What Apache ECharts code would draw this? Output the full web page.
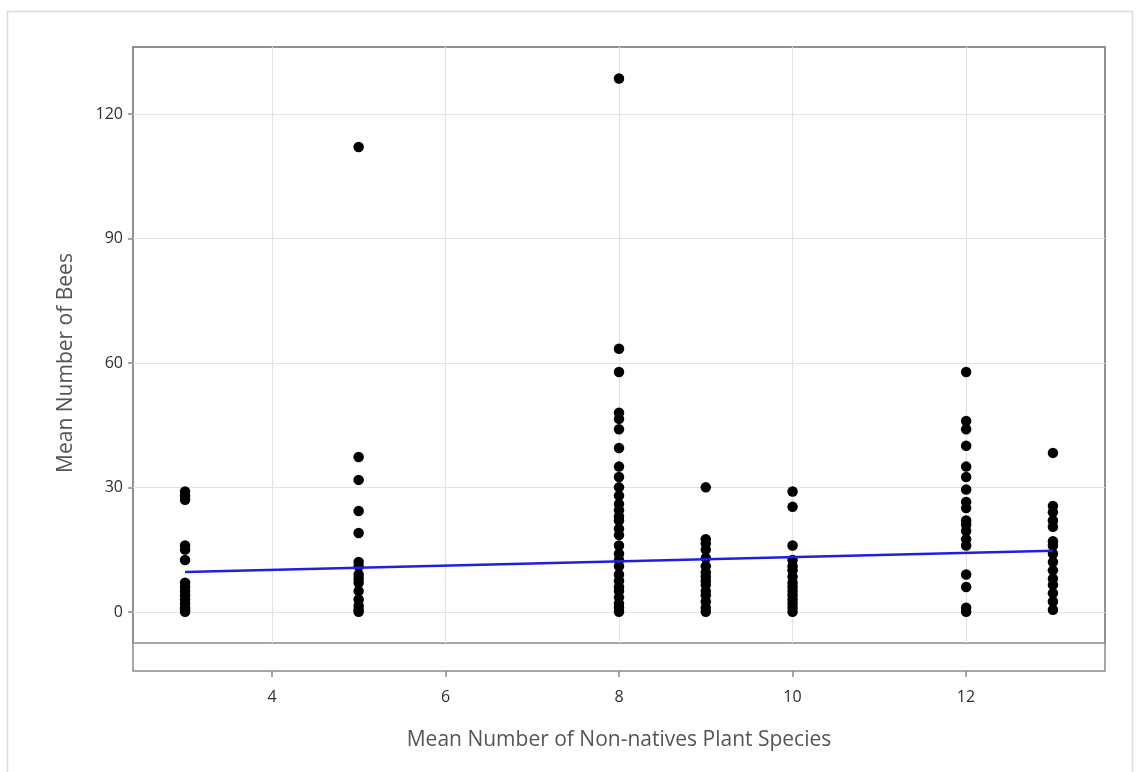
<!DOCTYPE html>
<html>
<head>
<meta charset="utf-8">
<script src="https://cdn.jsdelivr.net/npm/echarts@6/dist/echarts.min.js"></script>
<style>
  html, body { margin: 0; padding: 0; background: #fff; }
  #chart { width: 1143px; height: 772px; }
</style>
</head>
<body>
<div id="chart"></div>
<script>
// x = mean number of non-native plant species, y = mean number of bees
const beesAt3 = [29, 28, 27, 16, 15, 12.5, 7, 6, 5, 4, 3, 2, 1, 0.5, 0]
const beesAt5 = [112, 37.3, 31.8, 24.3, 19, 12, 11, 9, 8, 7, 5, 3, 1.5, 0.5, 0]
const beesAt8 = [128.5, 63.4, 57.8, 48, 46.5, 44, 39.5, 35, 32.5, 30, 28, 26, 24.5, 23, 22, 20,
  18.5, 16, 14, 12.5, 11, 9, 7.5, 6, 5, 3.5, 2, 1, 0]
const beesAt9 = [30, 17.5, 16.5, 15, 13, 11, 9.5, 8.5, 7.5, 6.5, 5, 4, 2.5, 1, 0]
const beesAt10 = [29, 25.3, 16, 12.5, 11, 10, 8.5, 7, 6, 5, 4, 3, 2, 1, 0]
const beesAt12 = [57.8, 46, 44, 40, 35, 32.5, 29.5, 26.5, 25, 22, 21, 19.5, 17.5, 16, 9, 6, 1, 0]
const beesAt13 = [38.3, 25.5, 24, 22, 20.5, 17, 16, 14, 12, 10, 8, 6.5, 4.5, 2.5, 0.5]

const columns = [
  [3, beesAt3], [5, beesAt5], [8, beesAt8], [9, beesAt9],
  [10, beesAt10], [12, beesAt12], [13, beesAt13]
]

// fitted regression line endpoints
const fitX = [3, 13]
const fitY = [9.6, 14.7]

// tick ranges (first tick, last tick, step)
const xTickRange = [4, 12, 2]
const yTickRange = [0, 120, 30]

const points = []
columns.forEach(([x, ys]) => ys.forEach(y => points.push([x, y])))

const chart = echarts.init(document.getElementById('chart'))

const frameColor = '#8a8a8a'
const gridColor = '#e3e3e3'
const font = '"Open Sans", "Noto Sans", sans-serif'
const labelStyle = { fontFamily: font, fontSize: 16, color: '#2e2e2e' }
const titleStyle = { fontFamily: font, fontSize: 21, color: '#555' }

// x axis over the 4..12 tick span, used for labels / gridlines / tick marks
const xTickAxis = (gridIndex, extra) => Object.assign({
  type: 'value',
  gridIndex: gridIndex,
  min: xTickRange[0],
  max: xTickRange[1],
  interval: xTickRange[2],
  axisLine: { show: false },
  axisTick: { show: false },
  axisLabel: { show: false },
  splitLine: { show: false }
}, extra)

chart.setOption({
  animation: false,
  backgroundColor: '#fff',
  graphic: [{
    type: 'rect',
    shape: { x: 7.5, y: 11.5, width: 1125, height: 780 },
    style: { fill: 'none', stroke: '#dcdcdc', lineWidth: 1.5 },
    silent: true
  }],
  grid: [
    // 0: plotting area (x 2.4..13.6, y -7.5..136.1)
    { left: 133, top: 47, right: 38, bottom: 129, show: true, borderColor: frameColor, borderWidth: 1.5 },
    // 1: outer frame that holds the x axis
    { left: 133, top: 47, right: 38, bottom: 101, show: true, borderColor: frameColor, borderWidth: 1.5, backgroundColor: 'transparent' },
    // 2: y ticks span (0..120)
    { left: 133, top: 114, right: 38, bottom: 160 },
    // 3: x labels + title (4..12), on the outer frame
    { left: 272, top: 47, right: 177, bottom: 101 },
    // 4: x gridlines (4..12) inside the plotting area
    { left: 272, top: 47, right: 177, bottom: 129 },
    // 5: x tick marks hanging under the outer frame
    { left: 272, top: 671, right: 177, bottom: 95 }
  ],
  xAxis: [
    { type: 'value', gridIndex: 0, min: 2.4, max: 13.6, show: false },
    { type: 'value', gridIndex: 1, min: 0, max: 1, show: false },
    { type: 'value', gridIndex: 2, min: 0, max: 1, show: false },
    xTickAxis(3, {
      position: 'bottom',
      name: 'Mean Number of Non-natives Plant Species',
      nameLocation: 'middle',
      nameGap: 59,
      nameTextStyle: titleStyle,
      axisLabel: Object.assign({ show: true, margin: 18 }, labelStyle)
    }),
    xTickAxis(4, {
      splitLine: { show: true, lineStyle: { color: gridColor, width: 1.2 } }
    }),
    xTickAxis(5, {
      splitLine: { show: true, lineStyle: { color: frameColor, width: 1.5 } }
    })
  ],
  yAxis: [
    { type: 'value', gridIndex: 0, min: -7.5, max: 136.1, show: false },
    { type: 'value', gridIndex: 1, min: 0, max: 1, show: false },
    {
      type: 'value',
      gridIndex: 2,
      position: 'left',
      min: yTickRange[0],
      max: yTickRange[1],
      interval: yTickRange[2],
      name: 'Mean Number of Bees',
      nameLocation: 'middle',
      nameGap: 56,
      nameTextStyle: titleStyle,
      axisLine: { show: false },
      axisTick: { show: true, length: 5, lineStyle: { color: frameColor, width: 1.5 } },
      axisLabel: Object.assign({ margin: 10 }, labelStyle),
      splitLine: { show: true, lineStyle: { color: gridColor, width: 1.2 } }
    },
    { type: 'value', gridIndex: 3, min: 0, max: 1, show: false },
    { type: 'value', gridIndex: 4, min: 0, max: 1, show: false },
    { type: 'value', gridIndex: 5, min: 0, max: 1, show: false }
  ],
  series: [{
    type: 'scatter',
    xAxisIndex: 0,
    yAxisIndex: 0,
    symbolSize: 10.5,
    itemStyle: { color: '#000', opacity: 1 },
    data: points,
    z: 3
  }, {
    type: 'line',
    xAxisIndex: 0,
    yAxisIndex: 0,
    showSymbol: false,
    lineStyle: { color: '#1f1fe0', width: 2.5 },
    data: fitX.map((x, i) => [x, fitY[i]]),
    z: 4
  }]
})
</script>
</body>
</html>
